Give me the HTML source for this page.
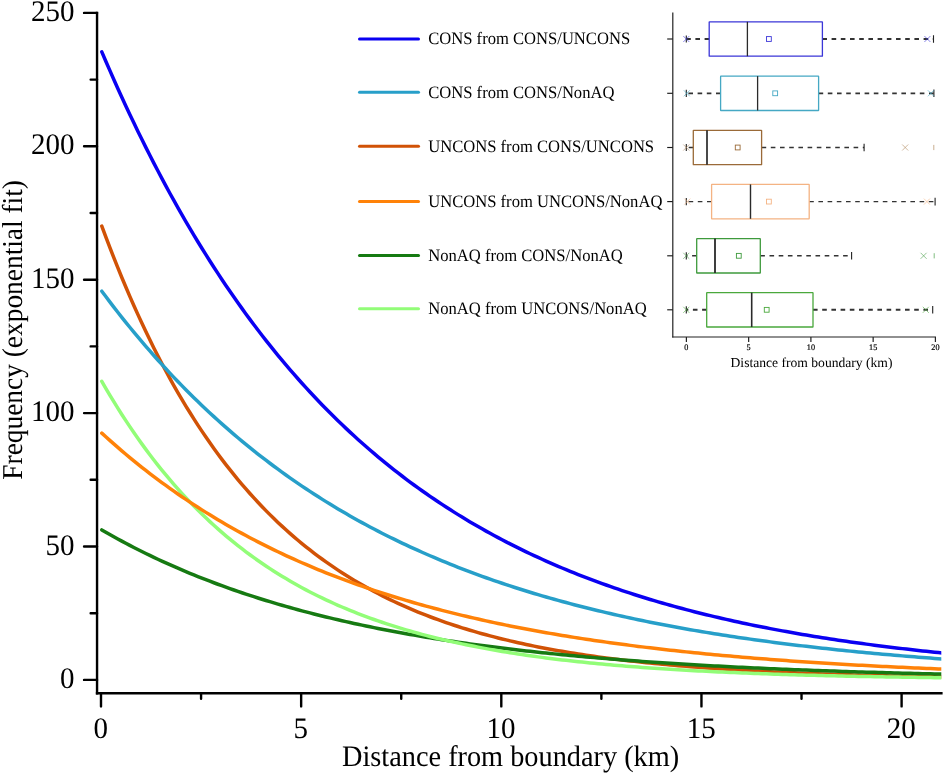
<!DOCTYPE html>
<html lang="en"><head><meta charset="utf-8"><title>Frequency vs distance from boundary</title>
<style>
html,body{margin:0;padding:0;background:#fff;}
body{width:944px;height:774px;overflow:hidden;}
svg{display:block;will-change:transform;}
text{font-family:"Liberation Serif","Times New Roman",serif;fill:#000;text-rendering:geometricPrecision;}
.tk{font-size:28.3px;}
.lg{font-size:16.6px;}
.it{font-size:8.2px;stroke:#000;stroke-width:0.2px;}
.ix{font-size:13.6px;}
</style></head><body>
<svg width="944" height="774" viewBox="0 0 944 774">
<rect width="944" height="774" fill="#fff"/>
<defs><clipPath id="pc"><rect x="90" y="0" width="851.3" height="700"/></clipPath></defs>
<g fill="none" stroke-width="3.5" stroke-linecap="round" stroke-linejoin="round" clip-path="url(#pc)">
<polyline stroke="#d15206" points="101.80,226.07 105.80,236.86 109.81,247.39 113.81,257.66 117.81,267.70 121.81,277.49 125.82,287.05 129.82,296.39 133.82,305.50 137.83,314.40 141.83,323.09 145.83,331.56 149.84,339.84 153.84,347.92 157.84,355.81 161.85,363.51 165.85,371.03 169.85,378.37 173.85,385.54 177.86,392.53 181.86,399.36 185.86,406.03 189.87,412.53 193.87,418.89 197.87,425.09 201.88,431.15 205.88,437.06 209.88,442.83 213.88,448.46 217.89,453.96 221.89,459.33 225.89,464.57 229.90,469.69 233.90,474.68 237.90,479.56 241.91,484.32 245.91,488.97 249.91,493.51 253.91,497.93 257.92,502.26 261.92,506.48 265.92,510.60 269.93,514.62 273.93,518.55 277.93,522.39 281.94,526.13 285.94,529.78 289.94,533.35 293.94,536.83 297.95,540.23 301.95,543.55 305.95,546.79 309.96,549.95 313.96,553.04 317.96,556.06 321.97,559.00 325.97,561.87 329.97,564.68 333.97,567.42 337.98,570.09 341.98,572.70 345.98,575.25 349.99,577.73 353.99,580.16 357.99,582.53 362.00,584.84 366.00,587.10 370.00,589.31 374.00,591.46 378.01,593.56 382.01,595.61 386.01,597.62 390.02,599.57 394.02,601.48 398.02,603.34 402.03,605.16 406.03,606.94 410.03,608.67 414.03,610.37 418.04,612.02 422.04,613.63 426.04,615.21 430.05,616.74 434.05,618.24 438.05,619.71 442.06,621.14 446.06,622.54 450.06,623.90 454.06,625.23 458.07,626.53 462.07,627.80 466.07,629.04 470.08,630.24 474.08,631.42 478.08,632.58 482.09,633.70 486.09,634.80 490.09,635.87 494.09,636.92 498.10,637.94 502.10,638.94 506.10,639.91 510.11,640.86 514.11,641.79 518.11,642.69 522.12,643.58 526.12,644.44 530.12,645.28 534.12,646.10 538.13,646.91 542.13,647.69 546.13,648.46 550.14,649.20 554.14,649.93 558.14,650.65 562.14,651.34 566.15,652.02 570.15,652.68 574.15,653.33 578.16,653.96 582.16,654.58 586.16,655.18 590.17,655.77 594.17,656.34 598.17,656.90 602.17,657.45 606.18,657.98 610.18,658.50 614.18,659.01 618.19,659.51 622.19,659.99 626.19,660.46 630.20,660.93 634.20,661.38 638.20,661.82 642.20,662.25 646.21,662.67 650.21,663.08 654.21,663.47 658.22,663.87 662.22,664.25 666.22,664.62 670.23,664.98 674.23,665.34 678.23,665.68 682.24,666.02 686.24,666.35 690.24,666.67 694.24,666.99 698.25,667.29 702.25,667.59 706.25,667.88 710.26,668.17 714.26,668.45 718.26,668.72 722.26,668.99 726.27,669.25 730.27,669.50 734.27,669.75 738.28,669.99 742.28,670.22 746.28,670.45 750.29,670.68 754.29,670.90 758.29,671.11 762.29,671.32 766.30,671.52 770.30,671.72 774.30,671.92 778.31,672.11 782.31,672.29 786.31,672.47 790.32,672.65 794.32,672.82 798.32,672.99 802.32,673.15 806.33,673.31 810.33,673.47 814.33,673.62 818.34,673.77 822.34,673.92 826.34,674.06 830.35,674.20 834.35,674.33 838.35,674.47 842.36,674.60 846.36,674.72 850.36,674.85 854.36,674.97 858.37,675.08 862.37,675.20 866.37,675.31 870.38,675.42 874.38,675.52 878.38,675.63 882.38,675.73 886.39,675.83 890.39,675.93 894.39,676.02 898.40,676.11 902.40,676.20 906.40,676.29 910.41,676.38 914.41,676.46 918.41,676.54 922.41,676.62 926.42,676.70 930.42,676.78 934.42,676.85 938.43,676.92 942.43,676.99 946.43,677.06 950.44,677.13 954.44,677.20 958.44,677.26 962.44,677.32"/>
<polyline stroke="#167a12" points="101.80,529.96 105.80,532.26 109.81,534.54 113.81,536.77 117.81,538.97 121.81,541.14 125.82,543.27 129.82,545.38 133.82,547.44 137.83,549.48 141.83,551.49 145.83,553.46 149.84,555.41 153.84,557.32 157.84,559.21 161.85,561.06 165.85,562.89 169.85,564.69 173.85,566.46 177.86,568.21 181.86,569.93 185.86,571.62 189.87,573.28 193.87,574.92 197.87,576.54 201.88,578.13 205.88,579.69 209.88,581.23 213.88,582.75 217.89,584.25 221.89,585.72 225.89,587.17 229.90,588.59 233.90,590.00 237.90,591.38 241.91,592.74 245.91,594.08 249.91,595.40 253.91,596.70 257.92,597.98 261.92,599.24 265.92,600.48 269.93,601.70 273.93,602.90 277.93,604.09 281.94,605.25 285.94,606.40 289.94,607.53 293.94,608.65 297.95,609.74 301.95,610.82 305.95,611.88 309.96,612.93 313.96,613.96 317.96,614.97 321.97,615.97 325.97,616.96 329.97,617.92 333.97,618.88 337.98,619.82 341.98,620.74 345.98,621.65 349.99,622.55 353.99,623.43 357.99,624.30 362.00,625.15 366.00,625.99 370.00,626.82 374.00,627.64 378.01,628.44 382.01,629.23 386.01,630.01 390.02,630.78 394.02,631.54 398.02,632.28 402.03,633.01 406.03,633.73 410.03,634.44 414.03,635.14 418.04,635.83 422.04,636.51 426.04,637.18 430.05,637.83 434.05,638.48 438.05,639.12 442.06,639.75 446.06,640.36 450.06,640.97 454.06,641.57 458.07,642.16 462.07,642.74 466.07,643.31 470.08,643.87 474.08,644.43 478.08,644.97 482.09,645.51 486.09,646.04 490.09,646.56 494.09,647.07 498.10,647.58 502.10,648.08 506.10,648.56 510.11,649.05 514.11,649.52 518.11,649.99 522.12,650.45 526.12,650.90 530.12,651.35 534.12,651.79 538.13,652.22 542.13,652.64 546.13,653.06 550.14,653.48 554.14,653.88 558.14,654.28 562.14,654.68 566.15,655.07 570.15,655.45 574.15,655.82 578.16,656.19 582.16,656.56 586.16,656.92 590.17,657.27 594.17,657.62 598.17,657.96 602.17,658.30 606.18,658.63 610.18,658.96 614.18,659.28 618.19,659.60 622.19,659.91 626.19,660.22 630.20,660.52 634.20,660.82 638.20,661.11 642.20,661.40 646.21,661.68 650.21,661.97 654.21,662.24 658.22,662.51 662.22,662.78 666.22,663.04 670.23,663.30 674.23,663.56 678.23,663.81 682.24,664.06 686.24,664.30 690.24,664.54 694.24,664.78 698.25,665.01 702.25,665.24 706.25,665.46 710.26,665.69 714.26,665.90 718.26,666.12 722.26,666.33 726.27,666.54 730.27,666.75 734.27,666.95 738.28,667.15 742.28,667.34 746.28,667.54 750.29,667.73 754.29,667.91 758.29,668.10 762.29,668.28 766.30,668.46 770.30,668.63 774.30,668.81 778.31,668.98 782.31,669.15 786.31,669.31 790.32,669.47 794.32,669.63 798.32,669.79 802.32,669.95 806.33,670.10 810.33,670.25 814.33,670.40 818.34,670.55 822.34,670.69 826.34,670.83 830.35,670.97 834.35,671.11 838.35,671.24 842.36,671.38 846.36,671.51 850.36,671.64 854.36,671.76 858.37,671.89 862.37,672.01 866.37,672.13 870.38,672.25 874.38,672.37 878.38,672.49 882.38,672.60 886.39,672.71 890.39,672.82 894.39,672.93 898.40,673.04 902.40,673.15 906.40,673.25 910.41,673.35 914.41,673.45 918.41,673.55 922.41,673.65 926.42,673.75 930.42,673.84 934.42,673.93 938.43,674.02 942.43,674.12 946.43,674.20 950.44,674.29 954.44,674.38 958.44,674.46 962.44,674.55"/>
<polyline stroke="#92fd78" points="101.80,381.35 105.80,388.28 109.81,395.06 113.81,401.67 117.81,408.14 121.81,414.45 125.82,420.61 129.82,426.64 133.82,432.52 137.83,438.26 141.83,443.88 145.83,449.36 149.84,454.71 153.84,459.94 157.84,465.05 161.85,470.04 165.85,474.92 169.85,479.68 173.85,484.33 177.86,488.87 181.86,493.31 185.86,497.64 189.87,501.87 193.87,506.01 197.87,510.05 201.88,513.99 205.88,517.85 209.88,521.61 213.88,525.29 217.89,528.88 221.89,532.38 225.89,535.81 229.90,539.16 233.90,542.43 237.90,545.62 241.91,548.74 245.91,551.78 249.91,554.76 253.91,557.67 257.92,560.51 261.92,563.28 265.92,565.99 269.93,568.63 273.93,571.22 277.93,573.74 281.94,576.21 285.94,578.62 289.94,580.97 293.94,583.27 297.95,585.51 301.95,587.70 305.95,589.84 309.96,591.94 313.96,593.98 317.96,595.97 321.97,597.92 325.97,599.83 329.97,601.69 333.97,603.50 337.98,605.28 341.98,607.01 345.98,608.70 349.99,610.36 353.99,611.97 357.99,613.55 362.00,615.09 366.00,616.60 370.00,618.07 374.00,619.50 378.01,620.91 382.01,622.28 386.01,623.61 390.02,624.92 394.02,626.20 398.02,627.45 402.03,628.66 406.03,629.85 410.03,631.02 414.03,632.15 418.04,633.26 422.04,634.34 426.04,635.40 430.05,636.44 434.05,637.45 438.05,638.43 442.06,639.39 446.06,640.34 450.06,641.25 454.06,642.15 458.07,643.03 462.07,643.89 466.07,644.72 470.08,645.54 474.08,646.34 478.08,647.12 482.09,647.88 486.09,648.62 490.09,649.35 494.09,650.06 498.10,650.75 502.10,651.43 506.10,652.09 510.11,652.73 514.11,653.37 518.11,653.98 522.12,654.58 526.12,655.17 530.12,655.75 534.12,656.31 538.13,656.86 542.13,657.39 546.13,657.91 550.14,658.42 554.14,658.92 558.14,659.41 562.14,659.89 566.15,660.35 570.15,660.80 574.15,661.25 578.16,661.68 582.16,662.10 586.16,662.52 590.17,662.92 594.17,663.32 598.17,663.70 602.17,664.08 606.18,664.44 610.18,664.80 614.18,665.15 618.19,665.50 622.19,665.83 626.19,666.16 630.20,666.48 634.20,666.79 638.20,667.09 642.20,667.39 646.21,667.68 650.21,667.97 654.21,668.24 658.22,668.51 662.22,668.78 666.22,669.04 670.23,669.29 674.23,669.54 678.23,669.78 682.24,670.01 686.24,670.24 690.24,670.46 694.24,670.68 698.25,670.90 702.25,671.11 706.25,671.31 710.26,671.51 714.26,671.71 718.26,671.90 722.26,672.08 726.27,672.26 730.27,672.44 734.27,672.61 738.28,672.78 742.28,672.95 746.28,673.11 750.29,673.27 754.29,673.42 758.29,673.57 762.29,673.72 766.30,673.86 770.30,674.00 774.30,674.14 778.31,674.27 782.31,674.40 786.31,674.53 790.32,674.66 794.32,674.78 798.32,674.90 802.32,675.01 806.33,675.13 810.33,675.24 814.33,675.35 818.34,675.45 822.34,675.56 826.34,675.66 830.35,675.75 834.35,675.85 838.35,675.95 842.36,676.04 846.36,676.13 850.36,676.21 854.36,676.30 858.37,676.38 862.37,676.47 866.37,676.55 870.38,676.62 874.38,676.70 878.38,676.77 882.38,676.85 886.39,676.92 890.39,676.99 894.39,677.05 898.40,677.12 902.40,677.18 906.40,677.25 910.41,677.31 914.41,677.37 918.41,677.43 922.41,677.49 926.42,677.54 930.42,677.60 934.42,677.65 938.43,677.70 942.43,677.75 946.43,677.80 950.44,677.85 954.44,677.90 958.44,677.95 962.44,677.99"/>
<polyline stroke="#ff8208" points="101.80,433.11 105.80,436.76 109.81,440.36 113.81,443.90 117.81,447.39 121.81,450.83 125.82,454.22 129.82,457.55 133.82,460.84 137.83,464.08 141.83,467.27 145.83,470.42 149.84,473.52 153.84,476.57 157.84,479.58 161.85,482.54 165.85,485.46 169.85,488.33 173.85,491.17 177.86,493.96 181.86,496.71 185.86,499.42 189.87,502.09 193.87,504.72 197.87,507.31 201.88,509.86 205.88,512.37 209.88,514.85 213.88,517.29 217.89,519.70 221.89,522.07 225.89,524.40 229.90,526.70 233.90,528.97 237.90,531.20 241.91,533.40 245.91,535.56 249.91,537.70 253.91,539.80 257.92,541.87 261.92,543.92 265.92,545.93 269.93,547.91 273.93,549.86 277.93,551.78 281.94,553.68 285.94,555.55 289.94,557.38 293.94,559.20 297.95,560.98 301.95,562.74 305.95,564.47 309.96,566.18 313.96,567.86 317.96,569.52 321.97,571.15 325.97,572.76 329.97,574.34 333.97,575.91 337.98,577.44 341.98,578.96 345.98,580.45 349.99,581.92 353.99,583.37 357.99,584.80 362.00,586.21 366.00,587.59 370.00,588.96 374.00,590.30 378.01,591.63 382.01,592.93 386.01,594.22 390.02,595.49 394.02,596.73 398.02,597.96 402.03,599.18 406.03,600.37 410.03,601.55 414.03,602.70 418.04,603.85 422.04,604.97 426.04,606.08 430.05,607.17 434.05,608.25 438.05,609.31 442.06,610.35 446.06,611.38 450.06,612.39 454.06,613.39 458.07,614.37 462.07,615.34 466.07,616.30 470.08,617.24 474.08,618.17 478.08,619.08 482.09,619.98 486.09,620.86 490.09,621.74 494.09,622.60 498.10,623.45 502.10,624.28 506.10,625.10 510.11,625.91 514.11,626.71 518.11,627.50 522.12,628.27 526.12,629.04 530.12,629.79 534.12,630.53 538.13,631.26 542.13,631.98 546.13,632.69 550.14,633.39 554.14,634.07 558.14,634.75 562.14,635.42 566.15,636.08 570.15,636.73 574.15,637.36 578.16,637.99 582.16,638.61 586.16,639.22 590.17,639.83 594.17,640.42 598.17,641.00 602.17,641.58 606.18,642.14 610.18,642.70 614.18,643.25 618.19,643.79 622.19,644.33 626.19,644.85 630.20,645.37 634.20,645.88 638.20,646.39 642.20,646.88 646.21,647.37 650.21,647.85 654.21,648.33 658.22,648.79 662.22,649.25 666.22,649.71 670.23,650.15 674.23,650.59 678.23,651.03 682.24,651.45 686.24,651.87 690.24,652.29 694.24,652.70 698.25,653.10 702.25,653.50 706.25,653.89 710.26,654.27 714.26,654.65 718.26,655.02 722.26,655.39 726.27,655.75 730.27,656.11 734.27,656.46 738.28,656.81 742.28,657.15 746.28,657.49 750.29,657.82 754.29,658.15 758.29,658.47 762.29,658.78 766.30,659.10 770.30,659.40 774.30,659.71 778.31,660.01 782.31,660.30 786.31,660.59 790.32,660.88 794.32,661.16 798.32,661.43 802.32,661.71 806.33,661.98 810.33,662.24 814.33,662.50 818.34,662.76 822.34,663.01 826.34,663.26 830.35,663.51 834.35,663.75 838.35,663.99 842.36,664.23 846.36,664.46 850.36,664.69 854.36,664.91 858.37,665.13 862.37,665.35 866.37,665.57 870.38,665.78 874.38,665.99 878.38,666.19 882.38,666.40 886.39,666.60 890.39,666.79 894.39,666.99 898.40,667.18 902.40,667.36 906.40,667.55 910.41,667.73 914.41,667.91 918.41,668.09 922.41,668.26 926.42,668.44 930.42,668.61 934.42,668.77 938.43,668.94 942.43,669.10 946.43,669.26 950.44,669.42 954.44,669.57 958.44,669.72 962.44,669.88"/>
<polyline stroke="#279fc9" points="101.80,291.17 105.80,296.55 109.81,301.85 113.81,307.07 117.81,312.23 121.81,317.31 125.82,322.32 129.82,327.26 133.82,332.14 137.83,336.95 141.83,341.69 145.83,346.36 149.84,350.97 153.84,355.52 157.84,360.00 161.85,364.43 165.85,368.79 169.85,373.09 173.85,377.33 177.86,381.51 181.86,385.64 185.86,389.70 189.87,393.71 193.87,397.67 197.87,401.57 201.88,405.42 205.88,409.21 209.88,412.96 213.88,416.65 217.89,420.29 221.89,423.87 225.89,427.41 229.90,430.90 233.90,434.35 237.90,437.74 241.91,441.09 245.91,444.39 249.91,447.64 253.91,450.85 257.92,454.02 261.92,457.14 265.92,460.22 269.93,463.26 273.93,466.25 277.93,469.21 281.94,472.12 285.94,474.99 289.94,477.83 293.94,480.62 297.95,483.37 301.95,486.09 305.95,488.77 309.96,491.41 313.96,494.02 317.96,496.59 321.97,499.12 325.97,501.62 329.97,504.08 333.97,506.51 337.98,508.91 341.98,511.27 345.98,513.61 349.99,515.90 353.99,518.17 357.99,520.41 362.00,522.61 366.00,524.79 370.00,526.93 374.00,529.05 378.01,531.13 382.01,533.19 386.01,535.22 390.02,537.22 394.02,539.19 398.02,541.13 402.03,543.05 406.03,544.94 410.03,546.81 414.03,548.65 418.04,550.46 422.04,552.25 426.04,554.02 430.05,555.76 434.05,557.47 438.05,559.16 442.06,560.83 446.06,562.48 450.06,564.10 454.06,565.70 458.07,567.28 462.07,568.84 466.07,570.37 470.08,571.89 474.08,573.38 478.08,574.85 482.09,576.31 486.09,577.74 490.09,579.15 494.09,580.54 498.10,581.92 502.10,583.27 506.10,584.61 510.11,585.92 514.11,587.22 518.11,588.50 522.12,589.77 526.12,591.01 530.12,592.24 534.12,593.45 538.13,594.65 542.13,595.83 546.13,596.99 550.14,598.14 554.14,599.27 558.14,600.38 562.14,601.48 566.15,602.56 570.15,603.63 574.15,604.69 578.16,605.73 582.16,606.75 586.16,607.76 590.17,608.76 594.17,609.74 598.17,610.71 602.17,611.67 606.18,612.61 610.18,613.54 614.18,614.46 618.19,615.37 622.19,616.26 626.19,617.14 630.20,618.01 634.20,618.86 638.20,619.70 642.20,620.54 646.21,621.36 650.21,622.17 654.21,622.96 658.22,623.75 662.22,624.53 666.22,625.29 670.23,626.05 674.23,626.79 678.23,627.53 682.24,628.25 686.24,628.96 690.24,629.67 694.24,630.36 698.25,631.05 702.25,631.72 706.25,632.39 710.26,633.05 714.26,633.69 718.26,634.33 722.26,634.96 726.27,635.58 730.27,636.20 734.27,636.80 738.28,637.40 742.28,637.98 746.28,638.56 750.29,639.13 754.29,639.70 758.29,640.25 762.29,640.80 766.30,641.34 770.30,641.88 774.30,642.40 778.31,642.92 782.31,643.43 786.31,643.93 790.32,644.43 794.32,644.92 798.32,645.41 802.32,645.88 806.33,646.35 810.33,646.82 814.33,647.27 818.34,647.72 822.34,648.17 826.34,648.61 830.35,649.04 834.35,649.47 838.35,649.89 842.36,650.30 846.36,650.71 850.36,651.12 854.36,651.51 858.37,651.91 862.37,652.29 866.37,652.67 870.38,653.05 874.38,653.42 878.38,653.79 882.38,654.15 886.39,654.50 890.39,654.86 894.39,655.20 898.40,655.54 902.40,655.88 906.40,656.21 910.41,656.54 914.41,656.86 918.41,657.18 922.41,657.50 926.42,657.80 930.42,658.11 934.42,658.41 938.43,658.71 942.43,659.00 946.43,659.29 950.44,659.58 954.44,659.86 958.44,660.13 962.44,660.41"/>
<polyline stroke="#0a00f2" points="101.80,51.85 105.80,61.20 109.81,70.41 113.81,79.49 117.81,88.43 121.81,97.23 125.82,105.91 129.82,114.45 133.82,122.87 137.83,131.17 141.83,139.33 145.83,147.38 149.84,155.31 153.84,163.12 157.84,170.81 161.85,178.39 165.85,185.86 169.85,193.22 173.85,200.46 177.86,207.60 181.86,214.63 185.86,221.56 189.87,228.38 193.87,235.10 197.87,241.73 201.88,248.25 205.88,254.68 209.88,261.01 213.88,267.24 217.89,273.39 221.89,279.44 225.89,285.40 229.90,291.27 233.90,297.06 237.90,302.76 241.91,308.38 245.91,313.91 249.91,319.36 253.91,324.72 257.92,330.01 261.92,335.22 265.92,340.35 269.93,345.41 273.93,350.39 277.93,355.29 281.94,360.13 285.94,364.89 289.94,369.58 293.94,374.20 297.95,378.75 301.95,383.23 305.95,387.65 309.96,392.00 313.96,396.29 317.96,400.51 321.97,404.67 325.97,408.77 329.97,412.80 333.97,416.78 337.98,420.70 341.98,424.56 345.98,428.36 349.99,432.10 353.99,435.79 357.99,439.43 362.00,443.01 366.00,446.53 370.00,450.01 374.00,453.43 378.01,456.80 382.01,460.12 386.01,463.39 390.02,466.62 394.02,469.79 398.02,472.92 402.03,476.00 406.03,479.04 410.03,482.03 414.03,484.97 418.04,487.88 422.04,490.74 426.04,493.55 430.05,496.33 434.05,499.06 438.05,501.75 442.06,504.40 446.06,507.02 450.06,509.59 454.06,512.13 458.07,514.62 462.07,517.08 466.07,519.51 470.08,521.90 474.08,524.25 478.08,526.57 482.09,528.85 486.09,531.10 490.09,533.31 494.09,535.50 498.10,537.65 502.10,539.76 506.10,541.85 510.11,543.91 514.11,545.93 518.11,547.92 522.12,549.89 526.12,551.83 530.12,553.73 534.12,555.61 538.13,557.46 542.13,559.28 546.13,561.08 550.14,562.85 554.14,564.59 558.14,566.31 562.14,568.00 566.15,569.66 570.15,571.31 574.15,572.92 578.16,574.52 582.16,576.08 586.16,577.63 590.17,579.15 594.17,580.65 598.17,582.13 602.17,583.59 606.18,585.02 610.18,586.43 614.18,587.82 618.19,589.19 622.19,590.55 626.19,591.88 630.20,593.19 634.20,594.48 638.20,595.75 642.20,597.00 646.21,598.24 650.21,599.45 654.21,600.65 658.22,601.83 662.22,602.99 666.22,604.14 670.23,605.26 674.23,606.38 678.23,607.47 682.24,608.55 686.24,609.61 690.24,610.66 694.24,611.69 698.25,612.70 702.25,613.70 706.25,614.69 710.26,615.66 714.26,616.62 718.26,617.56 722.26,618.49 726.27,619.40 730.27,620.30 734.27,621.19 738.28,622.06 742.28,622.92 746.28,623.77 750.29,624.61 754.29,625.43 758.29,626.24 762.29,627.04 766.30,627.83 770.30,628.60 774.30,629.37 778.31,630.12 782.31,630.86 786.31,631.59 790.32,632.31 794.32,633.02 798.32,633.72 802.32,634.40 806.33,635.08 810.33,635.75 814.33,636.41 818.34,637.05 822.34,637.69 826.34,638.32 830.35,638.94 834.35,639.55 838.35,640.15 842.36,640.74 846.36,641.32 850.36,641.90 854.36,642.46 858.37,643.02 862.37,643.57 866.37,644.11 870.38,644.64 874.38,645.17 878.38,645.69 882.38,646.20 886.39,646.70 890.39,647.19 894.39,647.68 898.40,648.16 902.40,648.63 906.40,649.10 910.41,649.56 914.41,650.01 918.41,650.45 922.41,650.89 926.42,651.32 930.42,651.75 934.42,652.17 938.43,652.58 942.43,652.99 946.43,653.39 950.44,653.78 954.44,654.17 958.44,654.55 962.44,654.93"/>
</g>
<g stroke="#000" stroke-width="2.4" fill="none" stroke-linecap="butt">
<path d="M97.05 11.70V694.5"/>
<path d="M95.85 693.3H942.6"/>
</g>
<g stroke="#000" stroke-width="2.4" fill="none" stroke-linecap="round">
<path d="M84.05 679.90H97.05M90.64999999999999 613.20H97.05M84.05 546.50H97.05M90.64999999999999 479.80H97.05M84.05 413.10H97.05M90.64999999999999 346.40H97.05M84.05 279.70H97.05M90.64999999999999 213.00H97.05M84.05 146.30H97.05M90.64999999999999 79.60H97.05M84.05 12.90H97.05"/>
<path d="M101.00 693.3V706.4M201.07 693.3V698.8M301.15 693.3V706.4M401.23 693.3V698.8M501.30 693.3V706.4M601.38 693.3V698.8M701.45 693.3V706.4M801.52 693.3V698.8M901.60 693.3V706.4"/>
</g>
<text class="tk" text-anchor="end" transform="translate(74.40 687.90) scale(1 1.03)" style="font-size:29px">0</text>
<text class="tk" text-anchor="end" transform="translate(74.40 554.50) scale(1 1.03)" style="font-size:29px">50</text>
<text class="tk" text-anchor="end" transform="translate(74.40 421.10) scale(1 1.03)" style="font-size:29px">100</text>
<text class="tk" text-anchor="end" transform="translate(74.40 287.70) scale(1 1.03)" style="font-size:29px">150</text>
<text class="tk" text-anchor="end" transform="translate(74.40 154.30) scale(1 1.03)" style="font-size:29px">200</text>
<text class="tk" text-anchor="end" transform="translate(74.40 20.90) scale(1 1.03)" style="font-size:29px">250</text>
<text class="tk" text-anchor="middle" transform="translate(100.70 737.50) scale(1 1.03)" style="font-size:29px">0</text>
<text class="tk" text-anchor="middle" transform="translate(300.85 737.50) scale(1 1.03)" style="font-size:29px">5</text>
<text class="tk" text-anchor="middle" transform="translate(501.00 737.50) scale(1 1.03)" style="font-size:29px">10</text>
<text class="tk" text-anchor="middle" transform="translate(701.15 737.50) scale(1 1.03)" style="font-size:29px">15</text>
<text class="tk" text-anchor="middle" transform="translate(901.30 737.50) scale(1 1.03)" style="font-size:29px">20</text>
<text class="tk" text-anchor="middle" transform="translate(510.60 765.80) scale(1 1.05)">Distance from boundary (km)</text>
<text class="tk" text-anchor="middle" transform="translate(22.10 329.90) rotate(-90) scale(1 1.05)" style="font-size:27.4px">Frequency (exponential fit)</text>
<g stroke-width="3" stroke-linecap="round">
<line x1="359.5" x2="418.5" y1="39.0" y2="39.0" stroke="#0a00f2"/>
<line x1="359.5" x2="418.5" y1="92.2" y2="92.2" stroke="#279fc9"/>
<line x1="359.5" x2="418.5" y1="146.2" y2="146.2" stroke="#d15206"/>
<line x1="359.5" x2="418.5" y1="201.4" y2="201.4" stroke="#ff8208"/>
<line x1="359.5" x2="418.5" y1="255.4" y2="255.4" stroke="#167a12"/>
<line x1="359.5" x2="418.5" y1="308.7" y2="308.7" stroke="#92fd78"/>
</g>
<text class="lg" text-anchor="start" transform="translate(428.20 44.30) scale(1 1.05)">CONS from CONS/UNCONS</text>
<text class="lg" text-anchor="start" transform="translate(428.20 97.50) scale(1 1.05)">CONS from CONS/NonAQ</text>
<text class="lg" text-anchor="start" transform="translate(428.20 151.50) scale(1 1.05)">UNCONS from CONS/UNCONS</text>
<text class="lg" text-anchor="start" transform="translate(428.20 206.70) scale(1 1.05)">UNCONS from UNCONS/NonAQ</text>
<text class="lg" text-anchor="start" transform="translate(428.20 260.70) scale(1 1.05)">NonAQ from CONS/NonAQ</text>
<text class="lg" text-anchor="start" transform="translate(428.20 314.00) scale(1 1.05)">NonAQ from UNCONS/NonAQ</text>
<g stroke="#222" stroke-width="1.2" fill="none">
<path d="M672.8 12.4V337.6"/>
<path d="M672.1999999999999 337.0H936"/>
<path d="M686.40 337.0V342.0M748.65 337.0V342.0M810.90 337.0V342.0M873.15 337.0V342.0M935.40 337.0V342.0"/>
</g>
<g fill="none">
<path d="M667.2 39.0H672.8" stroke="#1a1a1a" stroke-width="1.15"/>
<path d="M709.2 39.0H686.3M822.4 39.0H933.5" stroke="#333" stroke-width="1.9" stroke-dasharray="4.6 4.6"/>
<path d="M686.3 35.4V42.6M933.5 35.2V42.8" stroke="#222" stroke-width="1.1"/>
<rect x="709.2" y="21.8" width="113.2" height="34.4" stroke="#3b36d8" stroke-width="1.3" rx="0.3"/>
<path d="M747.4 21.8V56.2" stroke="#2a2a2a" stroke-width="1.3"/>
<rect x="766.5" y="36.6" width="4.8" height="4.8" stroke="#3b36d8" stroke-width="0.9"/>
<path d="M683.3 36.0L689.3 42.0M683.3 42.0L689.3 36.0" stroke="#3b36d8" stroke-width="0.8" opacity="0.75"/>
<path d="M924.4 36.0L930.4 42.0M924.4 42.0L930.4 36.0" stroke="#3b36d8" stroke-width="0.8" opacity="0.75"/>
</g>
<g fill="none">
<path d="M667.2 93.3H672.8" stroke="#1a1a1a" stroke-width="1.15"/>
<path d="M720.6 93.3H686.3M818.6 93.3H933.9" stroke="#333" stroke-width="1.8" stroke-dasharray="4.6 4.6"/>
<path d="M686.3 89.7V96.89999999999999M933.9 89.5V97.1" stroke="#222" stroke-width="1.1"/>
<rect x="720.6" y="76.1" width="98.0" height="34.4" stroke="#45a8c4" stroke-width="1.3" rx="0.3"/>
<path d="M757.6 76.1V110.5" stroke="#2a2a2a" stroke-width="1.3"/>
<rect x="772.8" y="90.9" width="4.8" height="4.8" stroke="#45a8c4" stroke-width="0.9"/>
<path d="M683.8 90.3L689.8 96.3M683.8 96.3L689.8 90.3" stroke="#45a8c4" stroke-width="0.8" opacity="0.75"/>
<path d="M927.9 90.3L933.9 96.3M927.9 96.3L933.9 90.3" stroke="#45a8c4" stroke-width="0.8" opacity="0.75"/>
</g>
<g fill="none">
<path d="M667.2 147.5H672.8" stroke="#1a1a1a" stroke-width="1.15"/>
<path d="M693.3 147.5H686.3M761.6 147.5H864.1" stroke="#333" stroke-width="1.4" stroke-dasharray="4.6 4.6"/>
<path d="M686.3 143.9V151.1M864.1 143.7V151.3" stroke="#222" stroke-width="1.1"/>
<rect x="693.3" y="130.3" width="68.3" height="34.4" stroke="#9a6a38" stroke-width="1.3" rx="0.3"/>
<path d="M707.0 130.3V164.7" stroke="#2a2a2a" stroke-width="1.7"/>
<rect x="735.3" y="145.1" width="4.8" height="4.8" stroke="#9a6a38" stroke-width="0.9"/>
<path d="M683.3 144.5L689.3 150.5M683.3 150.5L689.3 144.5" stroke="#b08a60" stroke-width="0.8" opacity="0.75"/>
<path d="M902.2 144.5L908.2 150.5M902.2 150.5L908.2 144.5" stroke="#b08a60" stroke-width="0.8" opacity="0.75"/>
<path d="M933.8 144.9V150.1" stroke="#b08a60" stroke-width="1" opacity="0.7"/>
</g>
<g fill="none">
<path d="M667.2 201.6H672.8" stroke="#1a1a1a" stroke-width="1.15"/>
<path d="M711.6 201.6H686.3M809.2 201.6H935.1" stroke="#333" stroke-width="1.4" stroke-dasharray="4.6 4.6"/>
<path d="M686.3 198.0V205.2M935.1 197.79999999999998V205.4" stroke="#222" stroke-width="1.1"/>
<rect x="711.6" y="184.4" width="97.6" height="34.4" stroke="#f4b383" stroke-width="1.3" rx="0.3"/>
<path d="M750.5 184.4V218.8" stroke="#2a2a2a" stroke-width="1.4"/>
<rect x="766.5" y="199.2" width="4.8" height="4.8" stroke="#f4b383" stroke-width="0.9"/>
<path d="M684.3 198.6L690.3 204.6M684.3 204.6L690.3 198.6" stroke="#f4b383" stroke-width="0.8" opacity="0.75"/>
<path d="M923.9 198.6L929.9 204.6M923.9 204.6L929.9 198.6" stroke="#f4b383" stroke-width="0.8" opacity="0.75"/>
</g>
<g fill="none">
<path d="M667.2 255.8H672.8" stroke="#1a1a1a" stroke-width="1.15"/>
<path d="M696.7 255.8H686.3M760.3 255.8H851.6" stroke="#333" stroke-width="1.6" stroke-dasharray="4.6 4.6"/>
<path d="M686.3 252.20000000000002V259.40000000000003M851.6 252.0V259.6" stroke="#222" stroke-width="1.1"/>
<rect x="696.7" y="238.6" width="63.6" height="34.4" stroke="#3e9a3c" stroke-width="1.3" rx="0.3"/>
<path d="M715.0 238.6V273.0" stroke="#2a2a2a" stroke-width="1.8"/>
<rect x="736.4" y="253.4" width="4.8" height="4.8" stroke="#3e9a3c" stroke-width="0.9"/>
<path d="M683.3 252.8L689.3 258.8M683.3 258.8L689.3 252.8" stroke="#4aa04a" stroke-width="0.8" opacity="0.75"/>
<path d="M920.6 252.8L926.6 258.8M920.6 258.8L926.6 252.8" stroke="#4aa04a" stroke-width="0.8" opacity="0.75"/>
<path d="M934.2 253.20000000000002V258.40000000000003" stroke="#4aa04a" stroke-width="1" opacity="0.7"/>
</g>
<g fill="none">
<path d="M667.2 309.8H672.8" stroke="#1a1a1a" stroke-width="1.15"/>
<path d="M706.7 309.8H686.3M813.0 309.8H932.7" stroke="#333" stroke-width="1.9" stroke-dasharray="4.6 4.6"/>
<path d="M686.3 306.2V313.40000000000003M932.7 306.0V313.6" stroke="#222" stroke-width="1.1"/>
<rect x="706.7" y="292.6" width="106.3" height="34.4" stroke="#4aa83c" stroke-width="1.3" rx="0.3"/>
<path d="M751.7 292.6V327.0" stroke="#2a2a2a" stroke-width="1.6"/>
<rect x="764.3" y="307.4" width="4.8" height="4.8" stroke="#4aa83c" stroke-width="0.9"/>
<path d="M683.3 306.8L689.3 312.8M683.3 312.8L689.3 306.8" stroke="#4aa83c" stroke-width="0.8" opacity="0.75"/>
<path d="M922.8 306.8L928.8 312.8M922.8 312.8L928.8 306.8" stroke="#4aa83c" stroke-width="0.8" opacity="0.75"/>
</g>
<text class="it" text-anchor="middle" transform="translate(686.40 350.00) scale(1 1.03)">0</text>
<text class="it" text-anchor="middle" transform="translate(748.65 350.00) scale(1 1.03)">5</text>
<text class="it" text-anchor="middle" transform="translate(810.90 350.00) scale(1 1.03)">10</text>
<text class="it" text-anchor="middle" transform="translate(873.15 350.00) scale(1 1.03)">15</text>
<text class="it" text-anchor="middle" transform="translate(935.40 350.00) scale(1 1.03)">20</text>
<text class="ix" text-anchor="middle" transform="translate(811.50 366.50) scale(1 1.0)">Distance from boundary (km)</text>
</svg></body></html>
